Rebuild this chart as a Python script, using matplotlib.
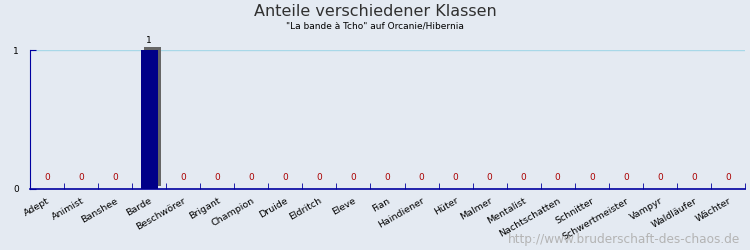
import numpy as np
import matplotlib
matplotlib.use('Agg')
import matplotlib.pyplot as plt
import matplotlib.transforms as mtransforms

# class names and counts
klassen = ['Adept', 'Animist', 'Banshee', 'Barde', 'Beschwörer', 'Brigant', 'Champion',
           'Druide', 'Eldritch', 'Eleve', 'Fian', 'Haindiener', 'Hüter', 'Malmer',
           'Mentalist', 'Nachtschatten', 'Schnitter', 'Schwertmeister', 'Vampyr',
           'Waldläufer', 'Wächter']
anzahl = [0, 0, 0, 1, 0, 0, 0, 0, 0, 0, 0, 0, 0, 0, 0, 0, 0, 0, 0, 0, 0]

bg = '#e4eaf2'
axis_col = '#0000a0'

fig = plt.figure(figsize=(7.5, 2.5), dpi=100, facecolor=bg)
ax = fig.add_axes([30/750, 1 - 189/250, 715/750, 139/250])
ax.set_facecolor(bg)

x = np.arange(len(klassen))

# shadow of the bars (3d look)
shadow = mtransforms.offset_copy(ax.transData, fig=fig, x=3, y=3, units='dots')
ax.bar(x, anzahl, width=0.5, color='#666666', transform=shadow, zorder=2, clip_on=False)
ax.bar(x, anzahl, width=0.5, color='#000088', zorder=3)

for xi, v in zip(x, anzahl):
    if v > 0:
        ax.text(xi, v, str(v), ha='center', va='bottom', fontsize=6.5, color='black',
                transform=mtransforms.offset_copy(ax.transData, fig=fig, x=0, y=5, units='dots'))
    else:
        ax.text(xi, 0.08, str(v), ha='center', va='center', fontsize=6.5, color='#aa0000')

ax.set_xlim(-0.5, len(klassen) - 0.5)
ax.set_ylim(0, 1)
ax.axhline(1, color='#a8d8e8', lw=1, zorder=1)

for s in ['top', 'right']:
    ax.spines[s].set_visible(False)
ax.spines['left'].set_color(axis_col)
ax.spines['bottom'].set_color(axis_col)
ax.spines['bottom'].set_linewidth(1.2)

ax.set_yticks([0, 1])
ax.set_yticklabels(['0', '1'], fontsize=6.5)
ax.tick_params(axis='y', direction='in', length=4, color=axis_col, pad=8)

ax.set_xticks(np.arange(len(klassen) + 1) - 0.5, minor=True)
ax.set_xticks(x)
ax.set_xticklabels(klassen, rotation=30, ha='right', rotation_mode='anchor', fontsize=6.8)
ax.tick_params(axis='x', which='major', length=0, pad=5)
ax.tick_params(axis='x', which='minor', direction='in', length=4, color=axis_col)

fig.text(0.5, 0.955, 'Anteile verschiedener Klassen', ha='center', va='center',
         fontsize=11.5, color='#303030')
fig.text(0.5, 0.895, '"La bande à Tcho" auf Orcanie/Hibernia', ha='center', va='center', fontsize=6.5)
fig.text(0.987, 0.04, 'http://www.bruderschaft-des-chaos.de', ha='right', va='center',
         fontsize=8.7, color='#b4b4b4')

fig.savefig('out.png', dpi=100, facecolor=bg)
